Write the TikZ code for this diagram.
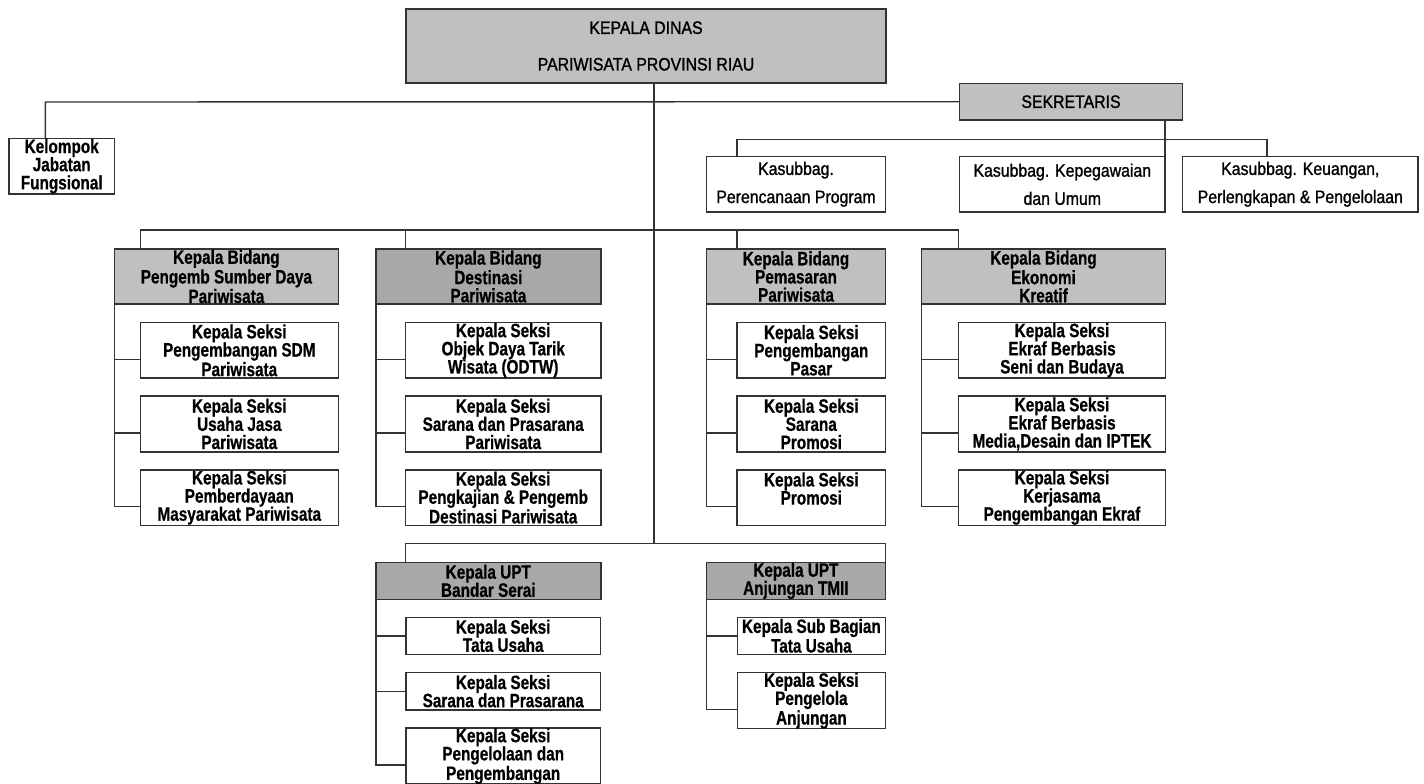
\documentclass[tikz,border=0pt]{standalone}
\usepackage{fontspec}
\usetikzlibrary{positioning}
\newfontfamily\topfont{Liberation Sans}[FakeStretch=0.88,FakeBold=1.2]
\newfontfamily\lowfont{Liberation Sans}[UprightFont=* Bold,FakeStretch=0.79,FakeBold=0.6]
\definecolor{boxgray}{RGB}{192,192,192}
\definecolor{boxdark}{RGB}{168,168,168}
\definecolor{linegray}{RGB}{51,51,51}
\def\dy{-0.225cm}
\begin{document}
\begin{tikzpicture}[x=0.025cm,y=-0.025cm,% one unit = one pixel of the chart
		every node/.style={
			draw=linegray,line width=1.1pt,
			inner sep=0pt,outer sep=0pt,
			align=center		% so that "\\" breaks the line
		},
		top/.style={font=\topfont\fontsize{12.8}{20}\selectfont,fill=boxgray},
		low/.style={font=\lowfont\fontsize{13.8}{12.9}\selectfont,fill=white},
		head/.style={low,fill=boxgray,minimum height=1.375cm},
		headdark/.style={low,fill=boxdark},
		seksi/.style={low,minimum height=1.39cm},
		seksitwo/.style={low,minimum height=0.925cm},
		col1/.style={minimum width=4.95cm},
		col2/.style={minimum width=4.88cm},
		col3/.style={minimum width=3.715cm},
		col4/.style={minimum width=5.17cm},
		conn/.style={draw=linegray,line width=1pt}
	]
	\clip (0,0) rectangle (1424,783);
	\fill[white] (0,0) rectangle (1424,783);
	% top level
	\node[top,minimum width=12cm,minimum height=1.85cm](KD) at (646,46){KEPALA DINAS\\[6pt]PARIWISATA PROVINSI RIAU};
	\node[top,minimum width=5.575cm,minimum height=0.92cm](SK) at (1071,101.7){SEKRETARIS};
	\node[low,minimum width=2.635cm,minimum height=1.39cm](KJF) at (61.7,166.2){Kelompok\\Jabatan\\Fungsional};
	% sub bagian
	\node[top,fill=white,minimum width=4.475cm,minimum height=1.383cm](KS1) at (796,184.3){Kasubbag.\\Perencanaan Program};
	\node[top,fill=white,minimum width=5.14cm,minimum height=1.383cm](KS2) at (1062.3,184.3){Kasubbag. Kepegawaian\\dan Umum};
	\node[top,fill=white,minimum width=5.89cm,minimum height=1.383cm](KS3) at (1300.3,184.3){Kasubbag. Keuangan,\\Perlengkapan \& Pengelolaan};
	% bidang
	\node[head,minimum width=5.6cm](B1) at (226.4,276.5){Kepala Bidang\\Pengemb Sumber Daya\\Pariwisata};
	\node[head,headdark,minimum width=5.62cm](B2) at (488.4,276.5){Kepala Bidang\\Destinasi\\Pariwisata};
	\node[head,minimum width=4.475cm](B3) at (796,276.5){Kepala Bidang\\Pemasaran\\Pariwisata};
	\node[head,minimum width=6.095cm](B4) at (1043.5,276.5){Kepala Bidang\\Ekonomi\\Kreatif};
	% seksi
	\node[seksi,col1](S11) at (239.3,350.3){Kepala Seksi\\Pengembangan SDM\\Pariwisata};
	\node[seksi,col1](S12)[below=0.45cm of S11]{Kepala Seksi\\Usaha Jasa\\Pariwisata};
	\node[seksi,col1](S13)[below=0.45cm of S12]{Kepala Seksi\\Pemberdayaan\\Masyarakat Pariwisata};
	\node[seksi,col2](S21) at (503.2,350.3){Kepala Seksi\\Objek Daya Tarik\\Wisata (ODTW)};
	\node[seksi,col2](S22)[below=0.45cm of S21]{Kepala Seksi\\Sarana dan Prasarana\\Pariwisata};
	\node[seksi,col2](S23)[below=0.45cm of S22]{Kepala Seksi\\Pengkajian \& Pengemb\\Destinasi Pariwisata};
	\node[seksi,col3](S31) at (811.3,350.3){Kepala Seksi\\Pengembangan\\Pasar};
	\node[seksi,col3](S32)[below=0.45cm of S31]{Kepala Seksi\\Sarana\\Promosi};
	\node[seksi,col3](S33)[below=0.45cm of S32]{Kepala Seksi\\Promosi\\~};
	\node[seksi,col4](S41) at (1062,350.3){Kepala Seksi\\Ekraf Berbasis\\Seni dan Budaya};
	\node[seksi,col4](S42)[below=0.45cm of S41]{Kepala Seksi\\Ekraf Berbasis\\Media,Desain dan IPTEK};
	\node[seksi,col4](S43)[below=0.45cm of S42]{Kepala Seksi\\Kerjasama\\Pengembangan Ekraf};
	% UPT
	\node[headdark,minimum width=5.62cm,minimum height=0.925cm](U1) at (488.3,580.8){Kepala UPT\\Bandar Serai};
	\node[headdark,minimum width=4.48cm,minimum height=0.925cm](U2) at (795.9,580.8){Kepala UPT\\Anjungan TMII};
	\node[seksitwo,minimum width=4.87cm](U11) at (503.2,635.8){Kepala Seksi\\Tata Usaha};
	\node[seksitwo,minimum width=4.87cm](U12)[below=0.46cm of U11]{Kepala Seksi\\Sarana dan Prasarana};
	\node[seksi,minimum width=4.87cm](U13)[below=0.46cm of U12]{Kepala Seksi\\Pengelolaan dan\\Pengembangan};
	\node[seksitwo,minimum width=3.7cm](U21) at (811.4,635.8){Kepala Sub Bagian\\Tata Usaha};
	\node[seksi,minimum width=3.7cm](U22)[below=0.46cm of U21]{Kepala Seksi\\Pengelola\\Anjungan};
	% lines
	\coordinate (trunk) at (654,543.5);
	\coordinate (J) at (45.4,102);
	\coordinate (kasL) at (737,139.3);
	\coordinate (kasR) at (1267,139.3);
	\coordinate (bid) at (0,230);
	\draw[conn] (KD.south -| trunk) -- (trunk);
	\draw[conn] (SK.west) -- (J) -- (J |- KJF.north);
	\draw[conn] (SK.south -| KS2.north east) -- (KS2.north east);
	\draw[conn] (KS1.north -| kasL) -- (kasL) -- (kasR) -- (KS3.north -| kasR);
	\draw[conn] (S11.west |- B1.north) -- (S11.west |- bid) -- (S41.west |- bid) -- (S41.west |- B4.north);
	\draw[conn] (S21.west |- bid) -- (S21.west |- B2.north);
	\draw[conn] (S31.west |- bid) -- (S31.west |- B3.north);
	\foreach \s in {S11,S12,S13} \draw[conn] ([yshift=\dy]\s.west) -| (B1.south west);
	\foreach \s in {S21,S22,S23} \draw[conn] ([yshift=\dy]\s.west) -| (B2.south west);
	\foreach \s in {S31,S32,S33} \draw[conn] ([yshift=\dy]\s.west) -| (B3.south west);
	\foreach \s in {S41,S42,S43} \draw[conn] ([yshift=\dy]\s.west) -| (B4.south west);
	\draw[conn] (U11.west |- U1.north) -- (U11.west |- trunk) -- (U2.north east |- trunk) -- (U2.north east);
	\draw[conn] (U11.west) -| (U1.south west);
	\draw[conn] (U12.west) -| (U1.south west);
	\draw[conn] ([yshift=\dy]U13.west) -| (U1.south west);
	\draw[conn] (U21.west) -| (U2.south west);
	\draw[conn] ([yshift=\dy]U22.west) -| (U2.south west);
\end{tikzpicture}
\end{document}
